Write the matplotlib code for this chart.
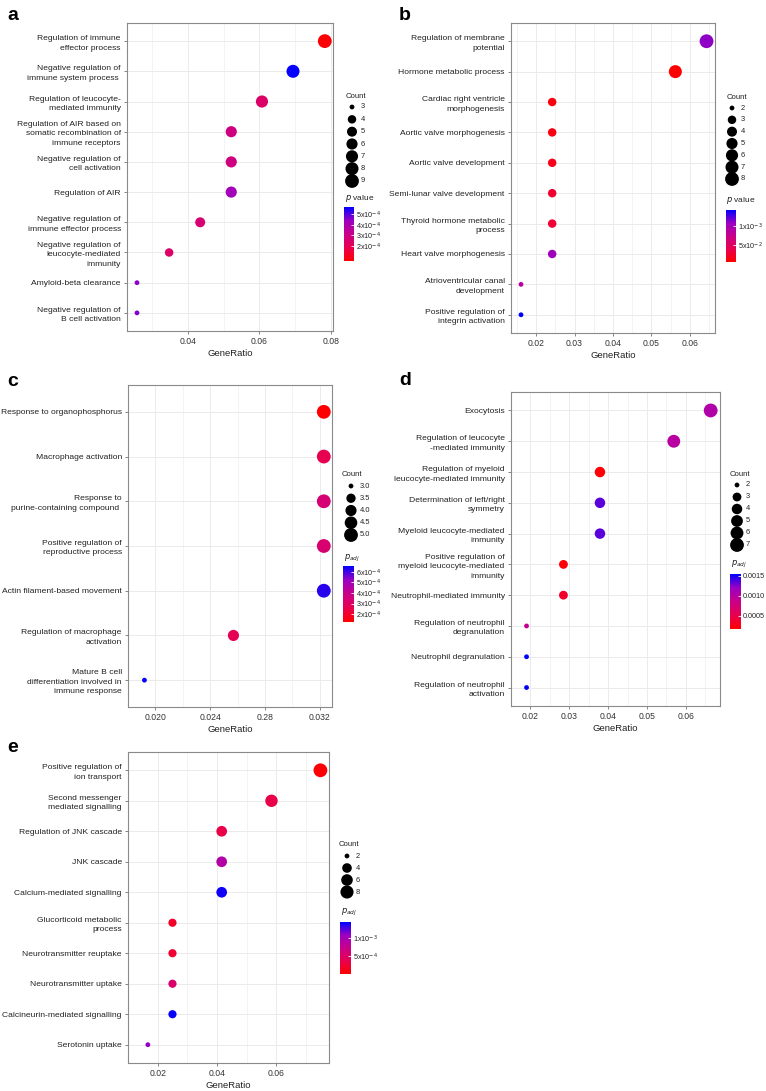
import numpy as np
import matplotlib

matplotlib.use("Agg")
import matplotlib.pyplot as plt
from matplotlib.cm import ScalarMappable
from matplotlib.colors import LinearSegmentedColormap, Normalize

plt.rcParams["font.family"] = ["Liberation Sans", "DejaVu Sans"]

W, H = 766, 1091

# ---- panel a ----
a_terms = [
    "Regulation of immune\neffector process",
    "Negative regulation of\nimmune system process ",
    "Regulation of leucocyte-\nmediated immunity",
    "Regulation of AIR based on\nsomatic recombination of\nimmune receptors",
    "Negative regulation of\ncell activation",
    "Regulation of AIR",
    "Negative regulation of\nimmune effector process",
    "Negative regulation of\nleucocyte-mediated\nimmunity",
    "Amyloid-beta clearance",
    "Negative regulation of\nB cell activation",
]
a_ratio = [0.0783, 0.0694, 0.0607, 0.0521, 0.0521, 0.0521, 0.0434, 0.0347, 0.0257, 0.0257]
a_count = [9, 8, 7, 6, 6, 6, 5, 4, 3, 3]
a_pval = [0.7e-4, 5.6e-4, 2.4e-4, 2.9e-4, 2.9e-4, 4.2e-4, 2.6e-4, 2.4e-4, 4.5e-4, 4.6e-4]
a_xticks = [0.04, 0.06, 0.08]
a_xticklabels = ["0.04", "0.06", "0.08"]
a_legend_counts = [3, 4, 5, 6, 7, 8, 9]
a_legend_labels = ["3", "4", "5", "6", "7", "8", "9"]
a_cbar_ticks = [2e-4, 3e-4, 4e-4, 5e-4]
a_cbar_labels = [r"2x10$^{-4}$", r"3x10$^{-4}$", r"4x10$^{-4}$", r"5x10$^{-4}$"]

# ---- panel b ----
b_terms = [
    "Regulation of membrane\npotential",
    "Hormone metabolic process",
    "Cardiac right ventricle\nmorphogenesis",
    "Aortic valve morphogenesis",
    "Aortic valve development",
    "Semi-lunar valve development",
    "Thyroid hormone metabolic\nprocess",
    "Heart valve morphogenesis",
    "Atrioventricular canal\ndevelopment",
    "Positive regulation of\nintegrin activation",
]
b_ratio = [0.0643, 0.0562, 0.0242, 0.0242, 0.0242, 0.0242, 0.0242, 0.0242, 0.0161, 0.0161]
b_count = [8, 7, 3, 3, 3, 3, 3, 3, 2, 2]
b_pval = [1.1e-3, 0.6e-4, 1.2e-4, 1.3e-4, 1.6e-4, 2.6e-4, 2.8e-4, 1.05e-3, 8.5e-4, 1.42e-3]
b_xticks = [0.02, 0.03, 0.04, 0.05, 0.06]
b_xticklabels = ["0.02", "0.03", "0.04", "0.05", "0.06"]
b_legend_counts = [2, 3, 4, 5, 6, 7, 8]
b_legend_labels = ["2", "3", "4", "5", "6", "7", "8"]
b_cbar_ticks = [5e-4, 1e-3]
b_cbar_labels = [r"5x10$^{-2}$", r"1x10$^{-3}$"]

# ---- panel c ----
c_terms = [
    "Response to organophosphorus",
    "Macrophage activation",
    "Response to\npurine-containing compound ",
    "Positive regulation of\nreproductive process",
    "Actin filament-based movement",
    "Regulation of macrophage\nactivation",
    "Mature B cell\ndifferentiation involved in\nimmune response",
]
c_ratio = [0.0323, 0.0323, 0.0323, 0.0323, 0.0323, 0.0257, 0.0192]
c_count = [5, 5, 5, 5, 5, 4, 3]
c_pval = [1.3e-4, 2.6e-4, 3.4e-4, 3.3e-4, 6.2e-4, 2.7e-4, 6.5e-4]
c_xticks = [0.020, 0.024, 0.028, 0.032]
c_xticklabels = ["0.020", "0.024", "0.28", "0.032"]
c_legend_counts = [3.0, 3.5, 4.0, 4.5, 5.0]
c_legend_labels = ["3.0", "3.5", "4.0", "4.5", "5.0"]
c_cbar_ticks = [2e-4, 3e-4, 4e-4, 5e-4, 6e-4]
c_cbar_labels = [r"2x10$^{-4}$", r"3x10$^{-4}$", r"4x10$^{-4}$", r"5x10$^{-4}$", r"6x10$^{-4}$"]

# ---- panel d ----
d_terms = [
    "Exocytosis",
    "Regulation of leucocyte\n-mediated immunity",
    "Regulation of myeloid\nleucocyte-mediated immunity",
    "Determination of left/right\nsymmetry",
    "Myeloid leucocyte-mediated\nimmunity",
    "Positive regulation of\nmyeloid leucocyte-mediated\nimmunity",
    "Neutrophil-mediated immunity",
    "Regulation of neutrophil\ndegranulation",
    "Neutrophil degranulation",
    "Regulation of neutrophil\nactivation",
]
d_ratio = [0.0664, 0.0569, 0.0379, 0.0379, 0.0379, 0.0285, 0.0285, 0.0190, 0.0190, 0.0190]
d_count = [7, 6, 4, 4, 4, 3, 3, 2, 2, 2]
d_pval = [1.05e-3, 1.0e-3, 2.0e-4, 1.35e-3, 1.35e-3, 2.0e-4, 3.5e-4, 9.0e-4, 1.55e-3, 1.55e-3]
d_xticks = [0.02, 0.03, 0.04, 0.05, 0.06]
d_xticklabels = ["0.02", "0.03", "0.04", "0.05", "0.06"]
d_legend_counts = [2, 3, 4, 5, 6, 7]
d_legend_labels = ["2", "3", "4", "5", "6", "7"]
d_cbar_ticks = [5e-4, 1e-3, 1.5e-3]
d_cbar_labels = ["0.0005", "0.0010", "0.0015"]

# ---- panel e ----
e_terms = [
    "Positive regulation of\nion transport",
    "Second messenger\nmediated signalling",
    "Regulation of JNK cascade",
    "JNK cascade",
    "Calcium-mediated signalling",
    "Glucorticoid metabolic\nprocess",
    "Neurotransmitter reuptake",
    "Neurotransmitter uptake",
    "Calcineurin-mediated signalling",
    "Serotonin uptake",
]
e_ratio = [0.0749, 0.0584, 0.0416, 0.0416, 0.0416, 0.0250, 0.0250, 0.0250, 0.0250, 0.0167]
e_count = [9, 7, 5, 5, 5, 3, 3, 3, 3, 2]
e_pval = [0.5e-4, 3.5e-4, 3.5e-4, 9.0e-4, 1.4e-3, 2.0e-4, 2.5e-4, 5.5e-4, 1.42e-3, 1.1e-3]
e_xticks = [0.02, 0.04, 0.06]
e_xticklabels = ["0.02", "0.04", "0.06"]
e_legend_counts = [2, 4, 6, 8]
e_legend_labels = ["2", "4", "6", "8"]
e_cbar_ticks = [5e-4, 1e-3]
e_cbar_labels = [r"5x10$^{-4}$", r"1x10$^{-3}$"]

# red -> blue gradient interpolated in Lab like ggplot
CMAP = LinearSegmentedColormap.from_list(
    "red_blue", ["#FF0000", "#E8004F", "#C90089", "#9B00C1", "#0000FF"])

GRID = "#EBEBEB"
BORDER = "#8a8a8a"
TXT = "#222222"


def px_rect(left, top, right, bottom):
    return [left / W, 1 - bottom / H, (right - left) / W, (bottom - top) / H]


def dot_size(counts, cmin, cmax):
    c = np.asarray(counts, dtype=float)
    d_px = 4.8 + 9.0 * np.sqrt(np.clip((c - cmin) / (cmax - cmin), 0, None))
    return (d_px * 0.72) ** 2


def draw_panel(fig, ov, lay, terms, ratio, count, pval, xticks, xticklabels,
               legend_counts, legend_labels, cbar_ticks, cbar_labels, cbar_title):
    ax = fig.add_axes(px_rect(*lay["box"]))
    n = len(terms)
    y = np.arange(n, 0, -1)
    norm = Normalize(*lay["vrange"])
    cmin, cmax = lay["crange"]

    ax.scatter(ratio, y, s=dot_size(count, cmin, cmax), c=pval, cmap=CMAP,
               norm=norm, edgecolors="none", zorder=3)
    ax.set_xlim(*lay["xlim"])
    ax.set_ylim(0.4, n + 0.6)
    ax.set_yticks(y)
    ax.set_yticklabels(terms, fontsize=6.1, color=TXT)
    for lab in ax.get_yticklabels():
        lab.set_linespacing(1.5)
    ax.set_xticks(xticks)
    ax.set_xticklabels(xticklabels, fontsize=6.2, color="#333333")
    step = xticks[1] - xticks[0]
    minor = np.arange(xticks[0] - step / 2, lay["xlim"][1], step)
    ax.set_xticks(minor, minor=True)
    ax.tick_params(which="major", length=2.5, width=0.5, color="#555555", pad=2)
    ax.tick_params(which="minor", length=0)
    ax.grid(which="major", color=GRID, lw=0.7, zorder=0)
    ax.grid(which="minor", axis="x", color=GRID, lw=0.4, zorder=0)
    ax.set_axisbelow(True)
    for sp in ax.spines.values():
        sp.set_color(BORDER)
        sp.set_linewidth(0.8)
    ax.set_xlabel("GeneRatio", fontsize=6.8, color=TXT, labelpad=2)

    fig.text(lay["letter"][0] / W, 1 - lay["letter"][1] / H, lay["name"],
             fontsize=14, fontweight="bold", va="center", ha="left")

    # size legend
    lx, ly = lay["count_title"]
    fig.text(lx / W, 1 - ly / H, "Count", fontsize=5.6, va="center", color=TXT)
    ys = np.linspace(lay["dots_y"][0], lay["dots_y"][1], len(legend_counts))
    ov.scatter(np.full(len(ys), lay["dots_x"]), ys,
               s=dot_size(legend_counts, cmin, cmax), c="black", edgecolors="none")
    for yy, lab in zip(ys, legend_labels):
        ov.text(lay["dots_x"] + 9, yy, lab, fontsize=5.4, va="center", color=TXT)

    # colour legend
    tx, ty = lay["cbar_title"]
    fig.text(tx / W, 1 - ty / H, cbar_title, fontsize=6.0, va="center", color=TXT)
    cax = fig.add_axes(px_rect(*lay["cbar"]))
    cb = fig.colorbar(ScalarMappable(norm=norm, cmap=CMAP), cax=cax)
    cb.outline.set_visible(False)
    cb.set_ticks(cbar_ticks)
    cb.set_ticklabels(cbar_labels)
    cax.tick_params(direction="in", length=2.5, width=0.6, color="white",
                    labelsize=5.2, pad=1.5, labelcolor=TXT)
    return ax


fig = plt.figure(figsize=(W / 100, H / 100), dpi=100)
ov = fig.add_axes([0, 0, 1, 1], zorder=5)
ov.set_xlim(0, W)
ov.set_ylim(H, 0)
ov.axis("off")
ov.patch.set_alpha(0)

layouts = {
    "a": dict(name="a", box=(127, 23, 333, 331), xlim=(0.0229, 0.0806),
              vrange=(0.6e-4, 5.65e-4), crange=(3, 9), letter=(7, 15),
              count_title=(346, 96), dots_x=352, dots_y=(107, 181),
              cbar_title=(345, 198), cbar=(344, 207, 354, 261)),
    "b": dict(name="b", box=(511, 23, 715, 333), xlim=(0.0135, 0.0665),
              vrange=(0.53e-4, 1.42e-3), crange=(2, 8), letter=(399, 15),
              count_title=(727, 98), dots_x=732, dots_y=(108, 179),
              cbar_title=(726, 201), cbar=(726, 210, 736, 262)),
    "c": dict(name="c", box=(128, 385, 332, 707), xlim=(0.0187, 0.0329),
              vrange=(1.24e-4, 6.57e-4), crange=(3, 5), letter=(7, 381),
              count_title=(342, 474), dots_x=351, dots_y=(486, 535),
              cbar_title=(344, 558), cbar=(343, 566, 354, 622)),
    "d": dict(name="d", box=(511, 392, 720, 706), xlim=(0.0165, 0.0688),
              vrange=(1.75e-4, 1.55e-3), crange=(2, 7), letter=(399, 380),
              count_title=(730, 474), dots_x=737, dots_y=(485, 545),
              cbar_title=(731, 564), cbar=(730, 574, 741, 629)),
    "e": dict(name="e", box=(128, 752, 329, 1063), xlim=(0.014, 0.0778),
              vrange=(0.2e-4, 1.44e-3), crange=(2, 9), letter=(7, 748),
              count_title=(339, 844), dots_x=347, dots_y=(856, 892),
              cbar_title=(341, 912), cbar=(340, 922, 351, 974)),
}

pval_title = r"$p$ value"
padj_title = r"$p_{adj}$"

draw_panel(fig, ov, layouts["a"], a_terms, a_ratio, a_count, a_pval, a_xticks,
           a_xticklabels, a_legend_counts, a_legend_labels, a_cbar_ticks,
           a_cbar_labels, pval_title)
draw_panel(fig, ov, layouts["b"], b_terms, b_ratio, b_count, b_pval, b_xticks,
           b_xticklabels, b_legend_counts, b_legend_labels, b_cbar_ticks,
           b_cbar_labels, pval_title)
draw_panel(fig, ov, layouts["c"], c_terms, c_ratio, c_count, c_pval, c_xticks,
           c_xticklabels, c_legend_counts, c_legend_labels, c_cbar_ticks,
           c_cbar_labels, padj_title)
draw_panel(fig, ov, layouts["d"], d_terms, d_ratio, d_count, d_pval, d_xticks,
           d_xticklabels, d_legend_counts, d_legend_labels, d_cbar_ticks,
           d_cbar_labels, padj_title)
draw_panel(fig, ov, layouts["e"], e_terms, e_ratio, e_count, e_pval, e_xticks,
           e_xticklabels, e_legend_counts, e_legend_labels, e_cbar_ticks,
           e_cbar_labels, padj_title)

fig.savefig("out.png", dpi=100)
